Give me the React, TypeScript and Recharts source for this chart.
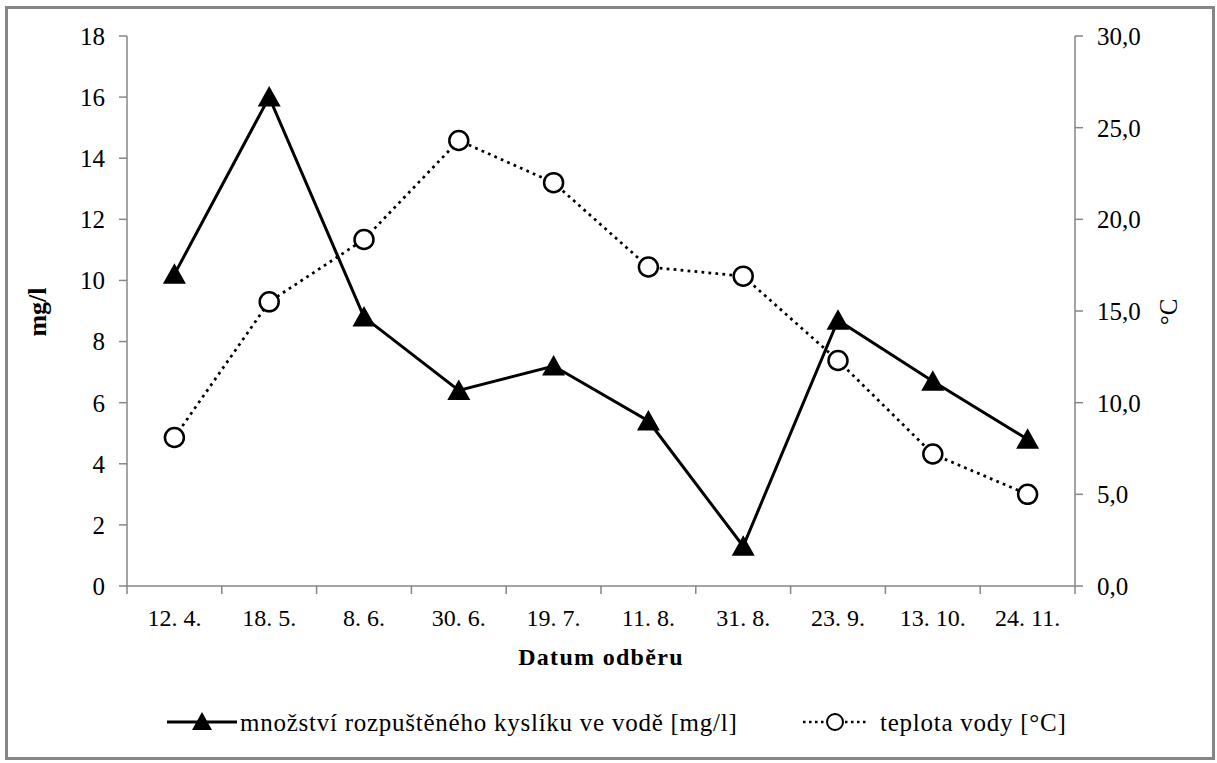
import { LineChart, Line, XAxis, YAxis } from 'recharts'

// sampling dates and measured values
const dates = ['12. 4.', '18. 5.', '8. 6.', '30. 6.', '19. 7.', '11. 8.', '31. 8.', '23. 9.', '13. 10.', '24. 11.']
const oxygen = [10.2, 16.0, 8.8, 6.4, 7.2, 5.4, 1.3, 8.7, 6.7, 4.8]
const temperature = [8.1, 15.5, 18.9, 24.3, 22.0, 17.4, 16.9, 12.3, 7.2, 5.0]

const oxygenTicks = [0, 2, 4, 6, 8, 10, 12, 14, 16, 18]
const temperatureTicks = [0, 5, 10, 15, 20, 25, 30]

const AXIS = '#868686'
const FONT = 'Liberation Serif, DejaVu Serif, serif'

const data = dates.map((date, i) => ({
  pos: i + 0.5,
  date,
  oxygen: oxygen[i],
  temperature: temperature[i],
}))

// boundary ticks at whole numbers, label ticks at the band centres
const xTicks = [...dates.flatMap((_, i) => [i, i + 0.5]), dates.length]

function DateTick({ x, y, payload }: { x: number; y: number; payload: { value: number } }) {
  const v = payload.value
  if (Number.isInteger(v)) {
    return <line x1={x} x2={x} y1={y} y2={y + 8} stroke={AXIS} strokeWidth={1.5} />
  }
  return (
    <text x={x} y={y + 40} textAnchor="middle" style={{ fontFamily: FONT, fontSize: 24 }} fill="#000">
      {dates[Math.floor(v)]}
    </text>
  )
}

function Triangle({ cx, cy }: { cx?: number; cy?: number }) {
  if (cx == null || cy == null) return null
  return <polygon points={`${cx},${cy - 11} ${cx - 11.5},${cy + 9.5} ${cx + 11.5},${cy + 9.5}`} fill="#000" />
}

function Circle({ cx, cy }: { cx?: number; cy?: number }) {
  if (cx == null || cy == null) return null
  return <circle cx={cx} cy={cy} r={9.5} fill="#fff" stroke="#000" strokeWidth={2.5} />
}

const tickStyle = { fontFamily: FONT, fontSize: 25, fill: '#000' }
const legendText = { fontFamily: FONT, fontSize: 25, letterSpacing: 0.75 }

export default function App() {
  return (
    <div
      style={{
        position: 'absolute',
        left: 0,
        top: 0,
        width: 1217,
        height: 763,
        background: '#fff',
        fontFamily: FONT,
      }}
    >
      <div
        style={{
          position: 'absolute',
          left: 5,
          top: 6,
          width: 1210,
          height: 754,
          border: `3px solid ${AXIS}`,
          boxSizing: 'border-box',
        }}
      />
      <LineChart
        width={1217}
        height={763}
        data={data}
        margin={{ top: 36, left: 67, right: 62, bottom: 137 }}
        style={{ position: 'absolute', left: 0, top: 0, fontFamily: FONT }}
      >
        <XAxis
          dataKey="pos"
          type="number"
          domain={[0, dates.length]}
          ticks={xTicks}
          interval={0}
          tick={DateTick}
          tickLine={false}
          tickSize={0}
          tickMargin={0}
          height={40}
          axisLine={{ stroke: AXIS, strokeWidth: 1.5 }}
        />
        <YAxis
          yAxisId="mg"
          domain={[0, 18]}
          ticks={oxygenTicks}
          interval={0}
          width={60}
          tick={tickStyle}
          tickSize={8}
          tickMargin={14}
          axisLine={{ stroke: AXIS, strokeWidth: 1.5 }}
          tickLine={{ stroke: AXIS, strokeWidth: 1.5 }}
        />
        <YAxis
          yAxisId="temp"
          orientation="right"
          domain={[0, 30]}
          ticks={temperatureTicks}
          interval={0}
          width={80}
          tick={tickStyle}
          tickSize={8}
          tickMargin={14}
          tickFormatter={(v: number) => v.toFixed(1).replace('.', ',')}
          axisLine={{ stroke: AXIS, strokeWidth: 1.5 }}
          tickLine={{ stroke: AXIS, strokeWidth: 1.5 }}
        />
        <Line
          yAxisId="temp"
          dataKey="temperature"
          type="linear"
          stroke="#000"
          strokeWidth={2.75}
          strokeDasharray="2.75 4.25"
          dot={<Circle />}
          activeDot={false}
          isAnimationActive={false}
        />
        <Line
          yAxisId="mg"
          dataKey="oxygen"
          type="linear"
          stroke="#000"
          strokeWidth={3}
          dot={<Triangle />}
          activeDot={false}
          isAnimationActive={false}
        />
      </LineChart>

      {/* axis titles */}
      <div
        style={{
          position: 'absolute',
          left: 38,
          top: 312,
          transform: 'translate(-50%, -50%) rotate(-90deg)',
          fontSize: 26,
          fontWeight: 'bold',
          whiteSpace: 'nowrap',
        }}
      >
        mg/l
      </div>
      <div
        style={{
          position: 'absolute',
          left: 1169,
          top: 312,
          transform: 'translate(-50%, -50%) rotate(-90deg)',
          fontSize: 25,
          whiteSpace: 'nowrap',
        }}
      >
        °C
      </div>
      <div
        style={{
          position: 'absolute',
          left: 601,
          top: 657,
          transform: 'translate(-50%, -50%)',
          fontSize: 24,
          letterSpacing: 1.3,
          fontWeight: 'bold',
          whiteSpace: 'nowrap',
        }}
      >
        Datum odběru
      </div>

      {/* legend */}
      <svg style={{ position: 'absolute', left: 0, top: 700 }} width={1217} height={45}>
        <line x1={167} x2={237} y1={22} y2={22} stroke="#000" strokeWidth={3} />
        <polygon points="202,12 192,30 212,30" fill="#000" />
        <line x1={803} x2={868} y1={22} y2={22} stroke="#000" strokeWidth={2.5} strokeDasharray="2.5 3.5" />
        <circle cx={835} cy={22} r={8} fill="#fff" stroke="#000" strokeWidth={2} />
        <text x={240} y={31} style={legendText} fill="#000">
          množství rozpuštěného kyslíku ve vodě [mg/l]
        </text>
        <text x={880} y={31} style={legendText} fill="#000">
          teplota vody [°C]
        </text>
      </svg>
    </div>
  )
}
